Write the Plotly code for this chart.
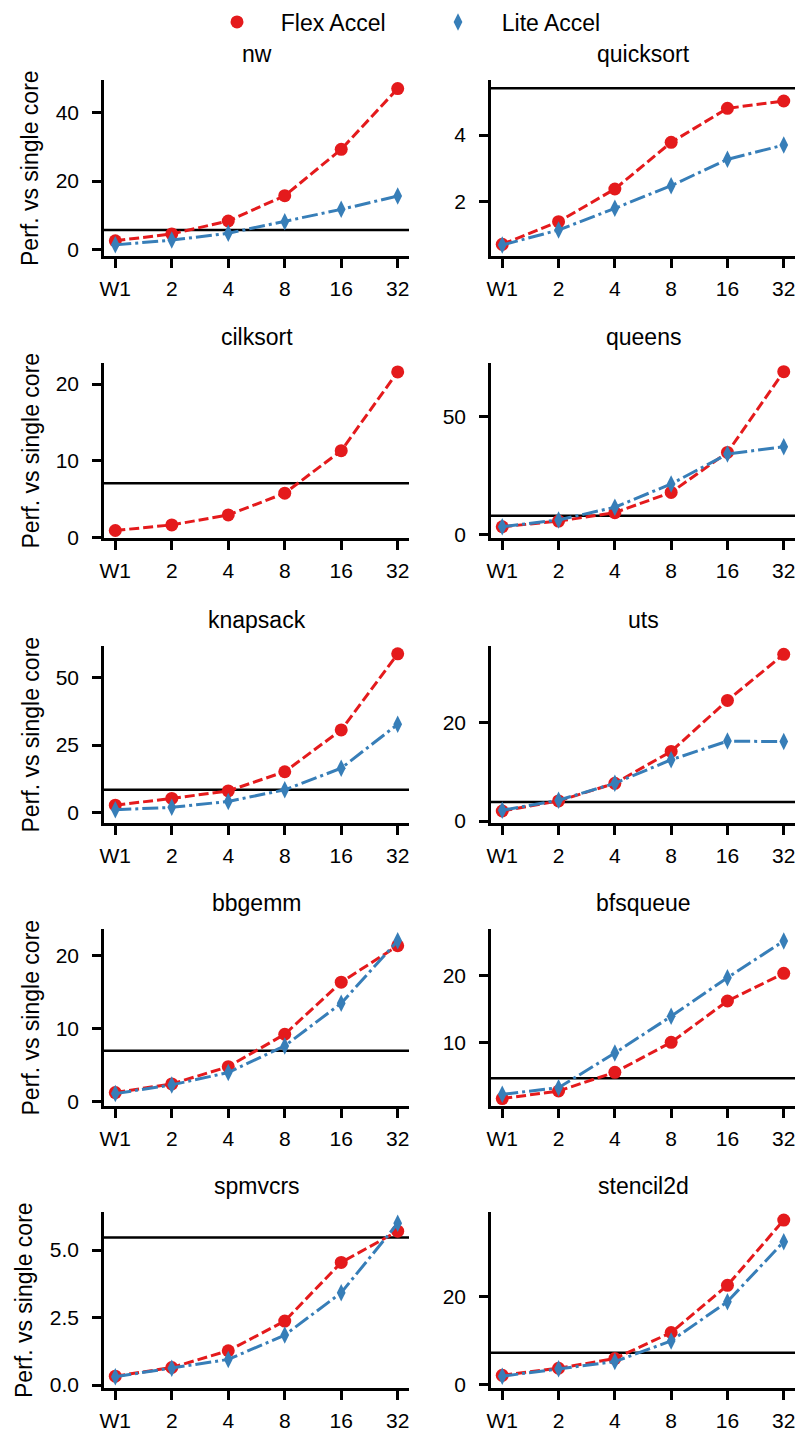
import plotly.graph_objects as go

categories = ["W1", "2", "4", "8", "16", "32"]
benchmarks = ["nw", "quicksort", "cilksort", "queens", "knapsack", "uts",
              "bbgemm", "bfsqueue", "spmvcrs", "stencil2d"]

flex_nw = [2.5, 4.5, 8.3, 15.7, 29.3, 47.1]
lite_nw = [1.3, 2.7, 4.7, 8.1, 11.7, 15.6]
flex_quicksort = [0.72, 1.40, 2.38, 3.78, 4.80, 5.02]
lite_quicksort = [0.70, 1.15, 1.80, 2.48, 3.27, 3.70]
flex_cilksort = [0.87, 1.6, 2.9, 5.75, 11.3, 21.6]
lite_cilksort = None
flex_queens = [3.2, 5.6, 9.2, 17.8, 34.8, 69.1]
lite_queens = [3.2, 6.1, 11.5, 21.4, 34.1, 37.2]
flex_knapsack = [2.7, 5.2, 8.0, 15.1, 30.6, 58.8]
lite_knapsack = [1.0, 1.9, 4.1, 8.4, 16.4, 32.7]
flex_uts = [2.05, 4.1, 7.7, 14.2, 24.6, 34.0]
lite_uts = [2.2, 4.25, 7.7, 12.5, 16.3, 16.2]
flex_bbgemm = [1.24, 2.43, 4.8, 9.25, 16.4, 21.4]
lite_bbgemm = [1.1, 2.3, 4.0, 7.65, 13.5, 22.1]
flex_bfsqueue = [1.56, 2.7, 5.5, 10.0, 16.2, 20.35]
lite_bfsqueue = [2.2, 3.2, 8.4, 13.9, 19.7, 25.2]
flex_spmvcrs = [0.33, 0.65, 1.27, 2.37, 4.54, 5.70]
lite_spmvcrs = [0.31, 0.62, 0.95, 1.85, 3.42, 5.99]
flex_stencil2d = [2.2, 3.8, 6.0, 11.9, 22.6, 37.4]
lite_stencil2d = [2.0, 3.7, 5.3, 10.0, 18.9, 32.5]

flex = [flex_nw, flex_quicksort, flex_cilksort, flex_queens, flex_knapsack,
        flex_uts, flex_bbgemm, flex_bfsqueue, flex_spmvcrs, flex_stencil2d]
lite = [lite_nw, lite_quicksort, lite_cilksort, lite_queens, lite_knapsack,
        lite_uts, lite_bbgemm, lite_bfsqueue, lite_spmvcrs, lite_stencil2d]

# reference (black) line level per benchmark
baseline = [5.65, 5.4, 7.06, 7.9, 8.4, 3.9, 7.0, 4.6, 5.46, 7.3]

# y-axis ranges and ticks
y_ranges = [[-1.96, 49.6], [0.37, 5.65], [-0.15, 22.8], [-1.7, 72.9], [-3.9, 61.7],
            [-0.4, 35.7], [-0.6, 23.7], [0.45, 27.0], [-0.12, 6.42], [-0.75, 39.3]]
y_ticks = [[0, 20, 40], [2, 4], [0, 10, 20], [0, 50], [0, 25, 50],
           [0, 20], [0, 10, 20], [10, 20], [0.0, 2.5, 5.0], [0, 20]]

RED = "#e41a1c"
BLUE = "#377eb8"
FONT = "Liberation Sans, Arial, sans-serif"

W, H = 802, 1433
col_px = [(104, 409), (491, 795)]
row_px = [(80, 256), (362.7, 538.3), (646, 823), (929, 1106), (1211.7, 1388.3)]

fig = go.Figure()
annotations = []
shapes = []

for i, name in enumerate(benchmarks):
    r, c = divmod(i, 2)
    idx = "" if i == 0 else str(i + 1)
    xa, ya = "x" + idx, "y" + idx
    x0, x1 = col_px[c]
    t, b = row_px[r]
    xdom = [x0 / W, x1 / W]
    ydom = [1 - b / H, 1 - t / H]

    fig.add_trace(go.Scatter(
        x=categories, y=flex[i], mode="lines+markers", xaxis=xa, yaxis=ya,
        line=dict(color=RED, width=3, dash="10px,4px"),
        marker=dict(color=RED, size=13, symbol="circle"),
        showlegend=False, name="Flex Accel"))
    if lite[i] is not None:
        fig.add_trace(go.Scatter(
            x=categories, y=lite[i], mode="lines+markers", xaxis=xa, yaxis=ya,
            line=dict(color=BLUE, width=3, dash="16px,4px,3px,4px"),
            marker=dict(color=BLUE, size=12.5, symbol="diamond-tall"),
            showlegend=False, name="Lite Accel"))

    axis_common = dict(showline=True, linecolor="black", linewidth=2.5,
                       ticks="outside", ticklen=9, tickwidth=2.5, tickcolor="black",
                       showgrid=False, zeroline=False, automargin=False,
                       tickfont=dict(family=FONT, size=21, color="black"))
    fig.update_layout(**{
        ("xaxis" + idx): dict(domain=xdom, anchor=ya, type="category",
                              categoryorder="array", categoryarray=categories,
                              range=[-0.2, 5.2], ticklabelstandoff=3, **axis_common),
        ("yaxis" + idx): dict(domain=ydom, anchor=xa, range=y_ranges[i],
                              tickvals=y_ticks[i], ticklabelstandoff=9,
                              tickformat=".1f" if name == "spmvcrs" else "d",
                              **axis_common),
    })

    shapes.append(dict(type="line", xref=xa + " domain", yref=ya,
                       x0=0, x1=1, y0=baseline[i], y1=baseline[i],
                       line=dict(color="black", width=2.5), layer="below"))

    annotations.append(dict(text=name, xref="paper", yref="paper",
                            x=(xdom[0] + xdom[1]) / 2, y=ydom[1],
                            xanchor="center", yanchor="middle", yshift=26,
                            showarrow=False,
                            font=dict(family=FONT, size=23, color="black")))
    if c == 0:
        lx = 24 if name == "spmvcrs" else 30
        annotations.append(dict(text="Perf. vs single core", xref="paper", yref="paper",
                                x=lx / W, y=(ydom[0] + ydom[1]) / 2,
                                xanchor="center", yanchor="middle", textangle=-90,
                                showarrow=False,
                                font=dict(family=FONT, size=23, color="black")))

# legend-only entries
NB = "\u00a0" * 3 + "\u2009"
fig.add_trace(go.Scatter(x=[None], y=[None], mode="markers", name=NB + "Flex Accel",
                         marker=dict(color=RED, size=13, symbol="circle"),
                         xaxis="x", yaxis="y"))
fig.add_trace(go.Scatter(x=[None], y=[None], mode="markers", name=NB + "Lite Accel",
                         marker=dict(color=BLUE, size=12.5, symbol="diamond-tall"),
                         xaxis="x", yaxis="y"))

fig.update_layout(
    width=W, height=H,
    margin=dict(l=0, r=0, t=0, b=0, autoexpand=False),
    paper_bgcolor="white", plot_bgcolor="white",
    font=dict(family=FONT, size=21, color="black"),
    annotations=annotations, shapes=shapes,
    showlegend=True,
    legend=dict(orientation="h", x=217 / W, y=1 - 0.5 / H, xanchor="left", yanchor="top",
                font=dict(family=FONT, size=23, color="black"),
                entrywidth=176, entrywidthmode="pixels",
                bgcolor="rgba(0,0,0,0)"),
)

fig.write_html("out.html", config={"displayModeBar": False},
               post_script="document.body.style.margin='0px';document.body.style.overflow='hidden';")
